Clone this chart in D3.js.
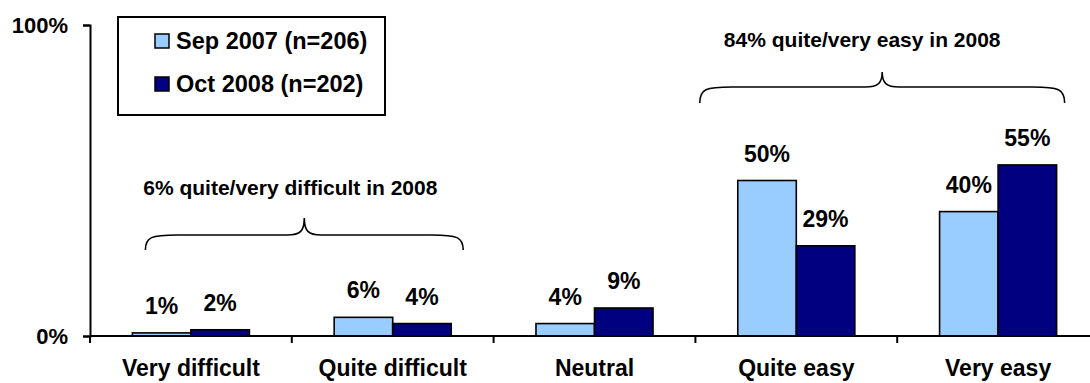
<!DOCTYPE html>
<html>
<head>
<meta charset="utf-8">
<script src="https://cdn.jsdelivr.net/npm/d3@7"></script>
<style>
  html, body { margin: 0; padding: 0; background: #fff; }
  svg { display: block; }
  text { font-family: "Liberation Sans", Arial, sans-serif; font-weight: bold; fill: #000; }
</style>
</head>
<body>
<svg id="chart" width="1090" height="383"></svg>
<script>
const categories = ["Very difficult", "Quite difficult", "Neutral", "Quite easy", "Very easy"];
const seriesNames = ["Sep 2007 (n=206)", "Oct 2008 (n=202)"];
const sep2007 = [1, 6, 4, 50, 40];
const oct2008 = [2, 4, 9, 29, 55];
const yTicks = [0, 100];
const annotations = [
  { text: "6% quite/very difficult in 2008", from: "Very difficult", to: "Quite difficult" },
  { text: "84% quite/very easy in 2008", from: "Quite easy", to: "Very easy" }
];

const colors = ["#99CCFF", "#000080"];
const svg = d3.select("#chart");

const x0 = d3.scaleBand().domain(categories).range([90, 1099]).paddingInner(0.42).paddingOuter(0.21);
const x1 = d3.scaleBand().domain(seriesNames).range([0, x0.bandwidth()]).padding(0);
const y = d3.scaleLinear().domain([0, 100]).range([336, 25]);

const data = categories.map((c, i) => ({ cat: c, values: [sep2007[i], oct2008[i]] }));

// bars
const groups = svg.append("g").selectAll("g").data(data).join("g")
  .attr("transform", d => `translate(${x0(d.cat)},0)`);
groups.selectAll("rect").data(d => d.values.map((v, j) => ({ s: seriesNames[j], v, j })))
  .join("rect")
  .attr("x", d => x1(d.s))
  .attr("y", d => y(d.v))
  .attr("width", x1.bandwidth())
  .attr("height", d => y(0) - y(d.v))
  .attr("fill", d => colors[d.j])
  .attr("stroke", "#000")
  .attr("stroke-width", 1.6);
groups.selectAll("text.val").data(d => d.values.map((v, j) => ({ s: seriesNames[j], v, j })))
  .join("text").attr("class", "val")
  .attr("x", d => x1(d.s) + x1.bandwidth() / 2)
  .attr("y", d => y(d.v) - 19)
  .attr("text-anchor", "middle")
  .style("font-size", "23px")
  .text(d => d.v + "%");

// y axis
const yAxis = svg.append("g").attr("transform", "translate(90,0)")
  .call(d3.axisLeft(y).tickValues(yTicks).tickFormat(d => d + "%").tickSize(7).tickPadding(15));
yAxis.select(".domain").attr("stroke", "#000").attr("stroke-width", 2);
yAxis.selectAll(".tick line").attr("stroke", "#000").attr("stroke-width", 2);
yAxis.selectAll(".tick text").style("font-size", "22px").attr("font-family", null);

// x axis baseline
const step = x0.step();
const xAxis = svg.append("g").attr("transform", `translate(0,${y(0)})`)
  .call(d3.axisBottom(x0).tickSize(0).tickPadding(24));
xAxis.select(".domain").attr("d", `M90,0H1090`).attr("stroke", "#000").attr("stroke-width", 2);
xAxis.selectAll(".tick text").style("font-size", "23px").attr("font-family", null).attr("dy", "0.71em");
// category boundary ticks
const bounds = categories.map(c => x0(c) - step * x0.paddingInner() / 2).concat([x0(categories[4]) + x0.bandwidth() + step * x0.paddingInner() / 2]);
svg.append("g").selectAll("line").data(bounds.filter(b => b <= 1090)).join("line")
  .attr("x1", d => d).attr("x2", d => d)
  .attr("y1", y(0)).attr("y2", y(0) + 7)
  .attr("stroke", "#000").attr("stroke-width", 2);

// legend
const lg = svg.append("g");
lg.append("rect").attr("x", 118).attr("y", 17).attr("width", 267).attr("height", 98)
  .attr("fill", "#fff").attr("stroke", "#000").attr("stroke-width", 2);
seriesNames.forEach((s, i) => {
  lg.append("rect").attr("x", 155).attr("y", 34 + i * 43).attr("width", 14).attr("height", 14)
    .attr("fill", colors[i]).attr("stroke", "#000").attr("stroke-width", 1.5);
  lg.append("text").attr("x", 176).attr("y", 49 + i * 43).style("font-size", "23.5px").text(s);
});

// braces
function bracePath(xa, xb, yTip, yFlat, yEnd) {
  const xm = (xa + xb) / 2;
  const re = 32, rt = 17;
  return `M${xa},${yEnd} C${xa},${yFlat + 2} ${xa + 6},${yFlat} ${xa + re},${yFlat}` +
    ` L${xm - rt},${yFlat} C${xm - 4},${yFlat} ${xm},${yFlat - 4} ${xm},${yTip}` +
    ` C${xm},${yFlat - 4} ${xm + 4},${yFlat} ${xm + rt},${yFlat}` +
    ` L${xb - re},${yFlat} C${xb - 6},${yFlat} ${xb},${yFlat + 2} ${xb},${yEnd}`;
}
const braceGeom = [
  { yTip: 218, yFlat: 235, yEnd: 250, textY: 195, padL: 13, padR: 12, textDx: -14 },
  { yTip: 72, yFlat: 87, yEnd: 103, textY: 47, padL: -38, padR: 8, textDx: -20 }
];
annotations.forEach((a, i) => {
  const g = braceGeom[i];
  const xa = x0(a.from) + g.padL;
  const xb = x0(a.to) + x0.bandwidth() + g.padR;
  svg.append("path").attr("d", bracePath(xa, xb, g.yTip, g.yFlat, g.yEnd))
    .attr("fill", "none").attr("stroke", "#000").attr("stroke-width", 1.6);
  svg.append("text").attr("x", (xa + xb) / 2 + g.textDx).attr("y", g.textY)
    .attr("text-anchor", "middle").style("font-size", "21px").text(a.text);
});
</script>
</body>
</html>
